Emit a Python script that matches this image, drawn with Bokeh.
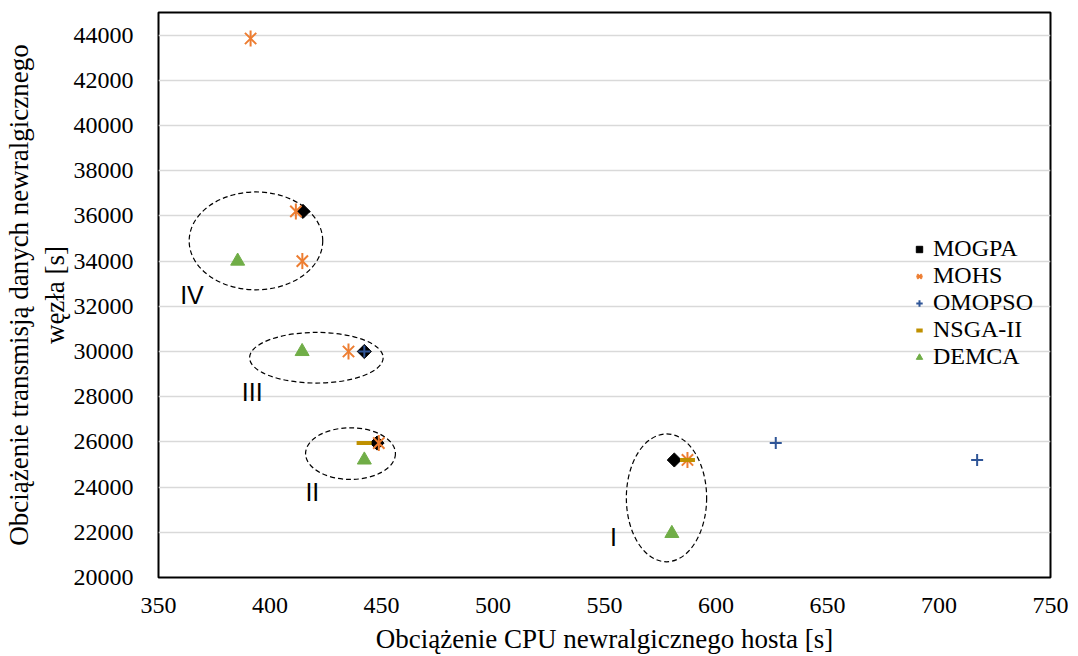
import math
from bokeh.plotting import figure
from bokeh.models import Legend, LegendItem, Range1d, FixedTicker, Label
from bokeh.embed import file_html
from bokeh.resources import INLINE

# ---- data ----
mogpa_x = [414.8, 442.3, 448.0, 581.3]
mogpa_y = [36200, 30000, 25950, 25200]
mohs_x = [391.3, 411.6, 414.5, 435.2, 448.8, 587.2]
mohs_y = [43850, 36200, 34000, 30000, 25950, 25200]
omopso_x = [442.3, 626.8, 717.1]
omopso_y = [30000, 25950, 25200]
nsga_x = [442.2, 587.2]
nsga_y = [25950, 25200]
demca_x = [385.5, 414.4, 442.3, 580.2]
demca_y = [34000, 30000, 25200, 21950]

# cluster annotations (ellipses and labels)
ell_x = [393.7, 420.8, 436.1, 577.8]
ell_y = [34895, 29724, 25481, 23523]
ell_w = [59.9, 59.9, 40.3, 36.0]
ell_h = [4330, 2240, 2285, 5657]
lab_text = ["IV", "III", "II", "I"]
lab_x = [365.0, 392.0, 419.0, 554.0]
lab_y = [32500, 28200, 23800, 21800]

x_ticks = [350, 400, 450, 500, 550, 600, 650, 700, 750]
y_ticks = list(range(20000, 44001, 2000))

SERIF = "Liberation Serif"

p = figure(width=1068, height=656, output_backend="svg", toolbar_location=None,
           x_range=Range1d(350, 750), y_range=Range1d(20000, 45000),
           min_border_left=150, min_border_right=18, min_border_top=12, min_border_bottom=79)

p.outline_line_color = "black"
p.outline_line_width = 2
p.xgrid.grid_line_color = None
p.ygrid.grid_line_color = "#D9D9D9"
p.ygrid.grid_line_width = 1.5

for ax in (p.xaxis[0], p.yaxis[0]):
    ax.axis_line_color = None
    ax.major_tick_line_color = None
    ax.minor_tick_line_color = None
    ax.major_label_text_font = SERIF
    ax.major_label_text_font_size = "24px"
    ax.major_label_text_color = "black"
    ax.axis_label_text_font = SERIF
    ax.axis_label_text_font_size = "27px"
    ax.axis_label_text_font_style = "normal"
    ax.axis_label_text_color = "black"

p.xaxis.ticker = FixedTicker(ticks=x_ticks)
p.yaxis.ticker = FixedTicker(ticks=y_ticks)
p.xaxis.major_label_standoff = 14
p.yaxis.major_label_standoff = 19
p.xaxis.axis_label = "Obciążenie CPU newralgicznego hosta [s]"
p.yaxis.axis_label = "Obciążenie transmisją danych newralgicznego\nwęzła [s]"
p.xaxis.axis_label_standoff = 8
p.yaxis.axis_label_standoff = 1

# ellipses
p.ellipse(x=ell_x, y=ell_y, width=ell_w, height=ell_h, fill_color=None,
          line_color="black", line_dash="5 3", line_width=1.2)
for t, lx, ly in zip(lab_text, lab_x, lab_y):
    p.add_layout(Label(x=lx, y=ly, text=t, text_font="Liberation Sans",
                       text_font_size="25px", text_color="black",
                       text_align="center", text_baseline="middle"))

r_mogpa = p.scatter(mogpa_x, mogpa_y, marker="square", size=10, angle=math.pi / 4, color="black")
r_mohs1 = p.scatter(mohs_x, mohs_y, marker="x", size=16, line_color="#ED7D31", line_width=2)
r_mohs2 = p.scatter(mohs_x, mohs_y, marker="dash", size=16, angle=math.pi / 2,
                    line_color="#ED7D31", line_width=2)
r_omopso = p.scatter(omopso_x, omopso_y, marker="cross", size=12, line_color="#2F5597", line_width=2)
r_nsga = p.scatter(nsga_x, nsga_y, marker="dash", size=15, line_color="#BF9000", line_width=4)
r_demca = p.scatter(demca_x, demca_y, marker="triangle", size=14, color="#70AD47")

legend = Legend(items=[
    LegendItem(label="MOGPA", renderers=[r_mogpa]),
    LegendItem(label="MOHS", renderers=[r_mohs1, r_mohs2]),
    LegendItem(label="OMOPSO", renderers=[r_omopso]),
    LegendItem(label="NSGA-II", renderers=[r_nsga]),
    LegendItem(label="DEMCA", renderers=[r_demca]),
], location=(753, 207))
legend.border_line_color = None
legend.background_fill_alpha = 0
legend.padding = 0
legend.margin = 0
legend.spacing = 0
legend.label_height = 27
legend.glyph_height = 20
legend.glyph_width = 16
legend.label_standoff = 6
legend.label_text_font = SERIF
legend.label_text_font_size = "24px"
legend.label_text_color = "black"
p.add_layout(legend)

open("out.html", "w").write(file_html(p, INLINE))
